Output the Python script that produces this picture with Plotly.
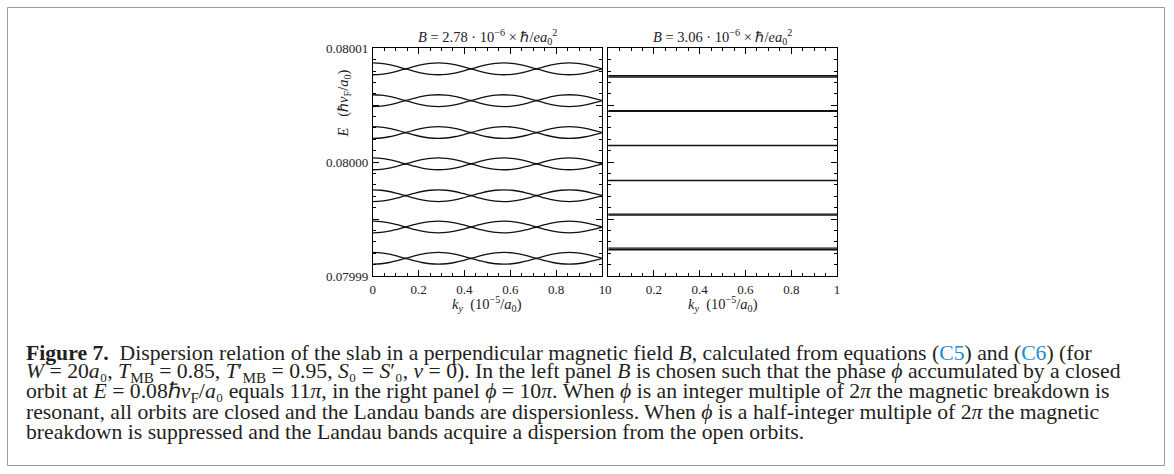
import plotly.graph_objects as go

W, H = 1174, 474

# ---------------- data (energies as offsets from 0.08, in units of 1e-6) ----------------
ky = [k / 28 for k in range(29)]

# left panel: band centres and half-splitting profile
left_centres = [8.2, 5.4, 2.6, -0.15, -2.95, -5.7, -8.45]
left_split = [0.52, 0.48, 0.37, 0.20, 0.02, 0.20, 0.37, 0.48,
              0.52, 0.48, 0.37, 0.20, 0.02, 0.20, 0.37, 0.48,
              0.52, 0.48, 0.37, 0.20, 0.02, 0.20, 0.37, 0.48,
              0.52, 0.48, 0.37, 0.20, 0.02]

# right panel: nearly dispersionless levels and their small splittings
right_levels = [7.54, 4.49, 1.46, -1.62, -4.61, -7.63]
right_split = [0.06, 0.03, 0.01, 0.01, 0.04, 0.07]

E0 = 0.08
UNIT = 1e-6

x_tickvals = [0, 0.2, 0.4, 0.6, 0.8, 1]
x_ticktext = ["0", "0.2", "0.4", "0.6", "0.8", "1"]
y_tickvals = [0.07999, 0.079995, 0.08, 0.080005, 0.08001]
y_ticktext = ["0.07999", "", "0.08000", "", "0.08001"]

titles = ["<i>B</i> = 2.78 · 10<sup>−6</sup> × ℏ/<i>ea</i><sub>0</sub><sup>2</sup>",
          "<i>B</i> = 3.06 · 10<sup>−6</sup> × ℏ/<i>ea</i><sub>0</sub><sup>2</sup>"]

caption_lines = [
    "<b>Figure 7.</b>\u00a0\u00a0Dispersion relation of the slab in a perpendicular magnetic field <i>B</i>, calculated from equations (<span style='color:#1b8ad3'>C5</span>) and (<span style='color:#1b8ad3'>C6</span>) (for",
    "<i>W</i> = 20<i>a</i>₀, <i>T</i><sub>MB</sub> = 0.85, <i>T</i>′<sub>MB</sub> = 0.95, <i>S</i>₀ = <i>S</i>′₀, <i>ν</i> = 0). In the left panel <i>B</i> is chosen such that the phase <i>ϕ</i> accumulated by a closed",
    "orbit at <i>E</i> = 0.08ℏ<i>v</i><sub>F</sub>/<i>a</i>₀ equals 11<i>π</i>, in the right panel <i>ϕ</i> = 10<i>π</i>. When <i>ϕ</i> is an integer multiple of 2<i>π</i> the magnetic breakdown is",
    "resonant, all orbits are closed and the Landau bands are dispersionless. When <i>ϕ</i> is a half-integer multiple of 2<i>π</i> the magnetic",
    "breakdown is suppressed and the Landau bands acquire a dispersion from the open orbits.",
]
caption_y = [354, 373.5, 393.5, 413.5, 433.5]

# ---------------- figure ----------------
fig = go.Figure()
line = dict(color="#111111", width=1.3, shape="spline", smoothing=0.8)

for c in left_centres:
    for sgn in (1, -1):
        fig.add_trace(go.Scatter(
            x=ky, y=[E0 + (c + sgn * s) * UNIT for s in left_split],
            mode="lines", line=line, xaxis="x", yaxis="y",
            showlegend=False, hoverinfo="skip"))

for c, s in zip(right_levels, right_split):
    for sgn in (1, -1):
        fig.add_trace(go.Scatter(
            x=ky, y=[E0 + (c + sgn * s) * UNIT for _ in ky],
            mode="lines", line=line, xaxis="x2", yaxis="y2",
            showlegend=False, hoverinfo="skip"))

# the photographed page comes out slightly squeezed vertically; place items so
# that they land at the target pixel rows of the picture
SY, OY = 0.97, 7.6


def px(x):
    return x / W


def py(y):
    yp = (y - OY) / SY
    yp = min(max(yp, 0.5), H - 0.5)
    return 1 - yp / H


top, bottom = 49, 277
left_dom = [px(371.7), px(602)]
right_dom = [px(608.3), px(838.3)]
ydom = [py(bottom), py(top)]

tickfont = dict(family="Liberation Serif, serif", size=13, color="#222")
xcommon = dict(range=[0, 1], tickmode="array", tickvals=x_tickvals, ticktext=x_ticktext,
               ticks="inside", ticklen=6, tickwidth=1, tickcolor="black",
               minor=dict(ticks="inside", ticklen=3, tickmode="linear", tick0=0, dtick=0.05,
                          tickcolor="black", showgrid=False),
               showline=True, linecolor="black", linewidth=1, mirror="allticks",
               showgrid=False, zeroline=False, tickfont=tickfont, ticklabelstandoff=1)
ycommon = dict(range=[0.07999, 0.08001], tickmode="array", tickvals=y_tickvals,
               ticks="inside", ticklen=6, tickwidth=1, tickcolor="black",
               minor=dict(ticks="inside", ticklen=3, tickmode="linear", tick0=0.07999, dtick=1e-6,
                          tickcolor="black", showgrid=False),
               showline=True, linecolor="black", linewidth=1, mirror="allticks",
               showgrid=False, zeroline=False, tickfont=tickfont, domain=ydom)

fig.update_layout(
    width=W, height=H, autosize=False, margin=dict(l=0, r=0, t=0, b=0, pad=0),
    paper_bgcolor="white", plot_bgcolor="white",
    xaxis=dict(domain=left_dom, anchor="y", **xcommon),
    xaxis2=dict(domain=right_dom, anchor="y2", **xcommon),
    yaxis=dict(anchor="x", ticktext=y_ticktext, showticklabels=True, ticklabelstandoff=1, **ycommon),
    yaxis2=dict(anchor="x2", showticklabels=False, **ycommon),
)

ann = []
axfont = dict(family="Liberation Serif, serif", size=14.5, color="#222")
for dom, t in zip([left_dom, right_dom], titles):
    cx = (dom[0] + dom[1]) / 2
    ann.append(dict(x=cx, y=py(38), xref="paper", yref="paper", text=t, showarrow=False,
                    font=axfont, xanchor="center", yanchor="middle"))
    ann.append(dict(x=cx, y=py(305), xref="paper", yref="paper",
                    text="<i>k<sub>y</sub></i>\u00a0\u00a0(10<sup>−5</sup>/<i>a</i><sub>0</sub>)",
                    showarrow=False, font=axfont, xanchor="center", yanchor="middle"))
ann.append(dict(x=px(343), y=py(104), xref="paper", yref="paper",
                text="<i>E</i>\u00a0\u00a0\u00a0(ℏ<i>v</i><sub>F</sub>/<i>a</i><sub>0</sub>)", textangle=-90,
                showarrow=False, font=axfont, xanchor="center", yanchor="middle"))

capfont = dict(family="Liberation Serif, serif", size=21.7, color="#231f20")
for t, yy in zip(caption_lines, caption_y):
    ann.append(dict(x=px(21), y=py(yy), xref="paper", yref="paper", text=t, showarrow=False,
                    font=capfont, xanchor="left", yanchor="middle", align="left"))
fig.update_layout(annotations=ann)

fig.add_shape(type="rect", xref="paper", yref="paper", x0=px(4.5), x1=px(1167.5),
              y0=py(468.5), y1=py(4.5), line=dict(color="#9a9a9a", width=1))

fig.write_html("out.html",
               config={"staticPlot": True, "responsive": False, "displayModeBar": False},
               post_script="document.body.style.margin='0';document.body.style.padding='0';"
                           "document.documentElement.style.overflow='hidden';")
